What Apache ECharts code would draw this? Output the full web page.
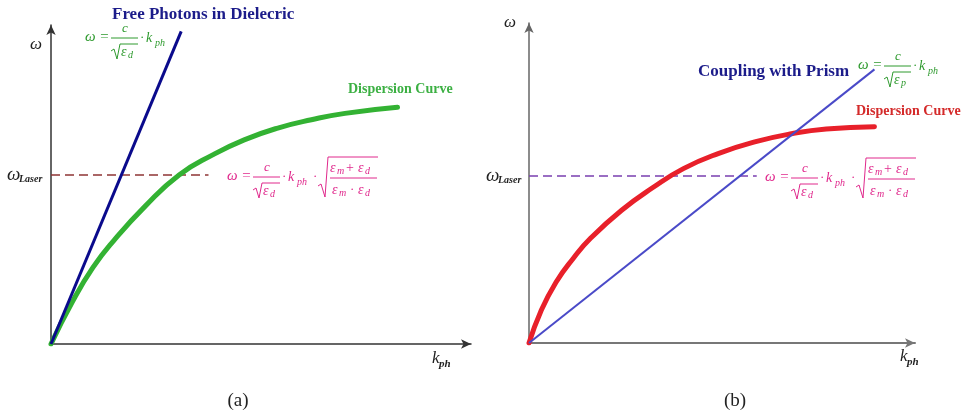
<!DOCTYPE html>
<html>
<head>
<meta charset="utf-8">
<script src="https://cdn.jsdelivr.net/npm/echarts@6/dist/echarts.min.js"></script>
<style>
html, body { margin: 0; padding: 0; background: #fff; }
#main { width: 966px; height: 415px; }
</style>
</head>
<body>
<div id="main"></div>
<script>
// (a) free photons in dielectric
var kLightA = [0, 3.1];
var wLightA = [0, 9.8];
var kSppA = [0, 0.5, 1.0, 1.5, 2.25, 3.05, 3.85, 4.6, 5.4, 6.2, 7.0, 8.25];
var wSppA = [0, 1.3, 2.4, 3.25, 4.33, 5.3, 5.93, 6.4, 6.77, 7.03, 7.23, 7.42];
var kLaserA = [0, 3.75];
var wLaserA = 5.3;

// (b) coupling with prism
var kLightB = [0, 8.95];
var wLightB = [0, 8.55];
var kSppB = [0, 0.3, 0.7, 1.15, 1.6, 2.4, 3.2, 4.0, 4.9, 5.9, 6.8, 7.7, 8.95];
var wSppB = [0, 0.97, 1.9, 2.65, 3.28, 4.15, 4.85, 5.45, 5.92, 6.3, 6.54, 6.69, 6.76];
var kLaserB = [0, 5.9];
var wLaserB = 5.22;

var axisMax = 10;

var SERIF = '"Liberation Serif", "DejaVu Serif", serif';

function pairs(xs, ys) {
    return xs.map(function (x, i) { return [x, ys[i]]; });
}
function flat(xs, y) {
    return xs.map(function (x) { return [x, y]; });
}

// 文字
function txt(x, y, s, size, color, style, align) {
    var f = (style === undefined ? 'italic' : style) + ' ' + size + 'px ' + SERIF;
    return {
        type: 'text', x: x, y: y, silent: true, z: 10,
        style: {
            text: s, font: f, fill: color,
            align: align || 'left', verticalAlign: 'middle',
            textAlign: align || 'left', textVerticalAlign: 'middle'
        }
    };
}
function poly(pts, color, w) {
    return {
        type: 'polyline', silent: true, z: 10,
        shape: { points: pts },
        style: { stroke: color, lineWidth: w || 1, fill: null }
    };
}

// ω = c/√ε · k_ph
function fracPart(x, y, color, sub) {
    return [
        txt(x, y, 'ω =', 15, color),
        txt(x + 40, y - 8, 'c', 13, color, 'italic', 'center'),
        poly([[x + 26, y + 1], [x + 53, y + 1]], color),
        poly([[x + 26, y + 14], [x + 29, y + 12], [x + 32, y + 22], [x + 35, y + 7], [x + 53, y + 7]], color),
        txt(x + 36, y + 15, 'ε', 14, color),
        txt(x + 43, y + 18, sub, 10, color),
        txt(x + 55, y + 1, '·', 13, color, 'normal'),
        txt(x + 61, y + 1, 'k', 14, color),
        txt(x + 70, y + 6, 'ph', 10, color)
    ];
}
// ... · √((εm+εd)/(εm·εd))
function sppFormula(x, y, color) {
    return fracPart(x, y, color, 'd').concat([
        txt(x + 86, y + 1, '·', 13, color, 'normal'),
        poly([[x + 91, y + 10], [x + 94, y + 8], [x + 98, y + 21], [x + 101, y - 19], [x + 151, y - 19]], color),
        txt(x + 103, y - 8, 'ε', 14, color),
        txt(x + 110, y - 5, 'm', 10, color),
        txt(x + 119, y - 8, '+', 14, color, 'normal'),
        txt(x + 131, y - 8, 'ε', 14, color),
        txt(x + 138, y - 5, 'd', 10, color),
        poly([[x + 103, y + 2], [x + 150, y + 2]], color),
        txt(x + 105, y + 14, 'ε', 14, color),
        txt(x + 112, y + 17, 'm', 10, color),
        txt(x + 123, y + 14, '·', 13, color, 'normal'),
        txt(x + 131, y + 14, 'ε', 14, color),
        txt(x + 138, y + 17, 'd', 10, color)
    ]);
}
function omegaLaser(x, y) {
    return [
        txt(x, y, 'ω', 19, '#222'),
        txt(x + 12, y + 4, 'Laser', 10, '#222', 'italic bold')
    ];
}
function kph(x, y) {
    return [
        txt(x, y, 'k', 17, '#222'),
        txt(x + 7, y + 5, 'ph', 11, '#222', 'italic bold')
    ];
}

var myChart = echarts.init(document.getElementById('main'));

function axisX(grid, color, w) {
    return {
        type: 'value', gridIndex: grid, min: 0, max: axisMax,
        axisLine: { show: true, symbol: ['none', 'arrow'], symbolSize: [7, 10], lineStyle: { color: color, width: w } },
        axisTick: { show: false }, axisLabel: { show: false }, splitLine: { show: false }
    };
}

var option = {
    animation: false,
    backgroundColor: '#fff',
    grid: [
        { left: 51, top: 25, width: 420, height: 319 },
        { left: 529, top: 23, width: 386, height: 320 }
    ],
    xAxis: [axisX(0, '#333', 1.5), axisX(1, '#777', 2)],
    yAxis: [axisX(0, '#333', 1.5), axisX(1, '#666', 1.5)],
    series: [
        {
            type: 'line', xAxisIndex: 0, yAxisIndex: 0, showSymbol: false, silent: true,
            data: flat(kLaserA, wLaserA),
            lineStyle: { color: '#8e3434', width: 1.5, type: [9, 5] }
        },
        {
            type: 'line', xAxisIndex: 0, yAxisIndex: 0, showSymbol: false, silent: true,
            smooth: 0.5,
            data: pairs(kSppA, wSppA),
            lineStyle: { color: '#33b233', width: 5, cap: 'round' }
        },
        {
            type: 'line', xAxisIndex: 0, yAxisIndex: 0, showSymbol: false, silent: true,
            data: pairs(kLightA, wLightA),
            lineStyle: { color: '#0a0a8c', width: 3 }
        },
        {
            type: 'line', xAxisIndex: 1, yAxisIndex: 1, showSymbol: false, silent: true,
            data: flat(kLaserB, wLaserB),
            lineStyle: { color: '#7a3fb0', width: 1.5, type: [9, 5] }
        },
        {
            type: 'line', xAxisIndex: 1, yAxisIndex: 1, showSymbol: false, silent: true,
            smooth: 0.5,
            data: pairs(kSppB, wSppB),
            lineStyle: { color: '#e8202a', width: 5, cap: 'round' }
        },
        {
            type: 'line', xAxisIndex: 1, yAxisIndex: 1, showSymbol: false, silent: true,
            data: pairs(kLightB, wLightB),
            lineStyle: { color: '#4a4ac8', width: 2 }
        }
    ],
    graphic: [].concat(
        [
            txt(112, 15, 'Free Photons in Dielecric', 17, '#1c1c8a', 'bold'),
            txt(348, 89, 'Dispersion Curve', 14, '#3cb043', 'bold'),
            txt(30, 45, 'ω', 17, '#222'),
            txt(238, 401, '(a)', 19, '#222', 'normal', 'center'),
            txt(698, 72, 'Coupling with Prism', 17, '#1c1c8a', 'bold'),
            txt(856, 111, 'Dispersion Curve', 14, '#d42a2a', 'bold'),
            txt(504, 23, 'ω', 17, '#222'),
            txt(735, 401, '(b)', 19, '#222', 'normal', 'center')
        ],
        fracPart(85, 37, '#2e9a2e', 'd'),
        sppFormula(227, 176, '#e0288c'),
        fracPart(858, 65, '#2e9a2e', 'p'),
        sppFormula(765, 177, '#e0288c'),
        omegaLaser(7, 175),
        omegaLaser(486, 176),
        kph(432, 359),
        kph(900, 357)
    )
};
myChart.setOption(option);
</script>
</body>
</html>
